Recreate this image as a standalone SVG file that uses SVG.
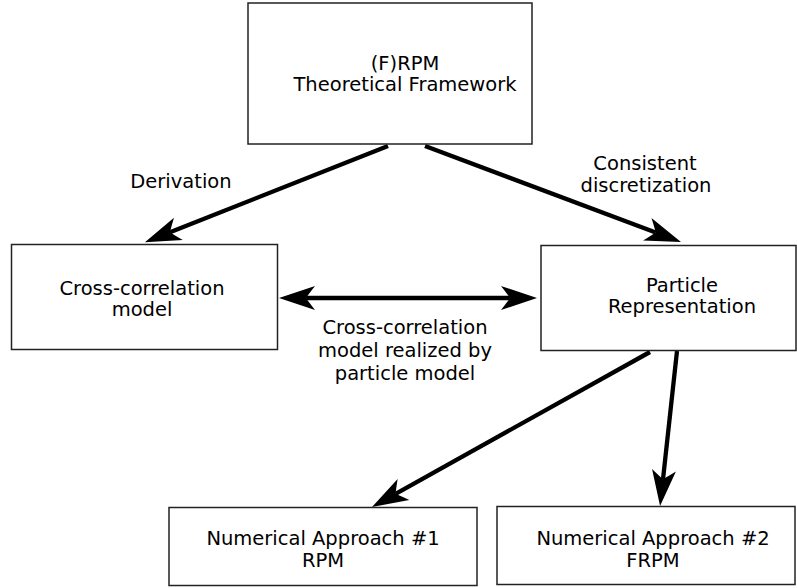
<svg xmlns="http://www.w3.org/2000/svg" width="797" height="588" viewBox="0 0 797 588">
<style>
.box{fill:#fff;stroke:#222;stroke-width:1.5}
.t{font-family:"DejaVu Sans",sans-serif;font-size:19.5px;fill:#000;text-anchor:middle}
.c{stroke:#000;stroke-width:4.3;fill:none}
</style>
<defs>
<marker id="ah" markerUnits="userSpaceOnUse" markerWidth="38" markerHeight="26" refX="9" refY="12" orient="auto-start-reverse" overflow="visible">
<path d="M0,0 L36,12 L0,24 Q7,15 9,12 Q7,9 0,0 Z" fill="#000"/>
</marker>
</defs>
<rect width="797" height="588" fill="#fff"/>
<g id="connectors">
<line class="c" x1="388" y1="146" x2="170" y2="232.2" marker-end="url(#ah)"/>
<line class="c" x1="425" y1="146" x2="655.7" y2="232.5" marker-end="url(#ah)"/>
<line class="c" x1="306" y1="298" x2="510" y2="298" marker-start="url(#ah)" marker-end="url(#ah)"/>
<line class="c" x1="650" y1="352" x2="395.6" y2="493.8" marker-end="url(#ah)"/>
<line class="c" x1="677" y1="351" x2="663" y2="479.2" marker-end="url(#ah)"/>
<text class="t" x="181" y="188">Derivation</text>
<text class="t" x="645" y="170">Consistent</text>
<text class="t" x="646" y="192">discretization</text>
<text class="t" x="405" y="334">Cross-correlation</text>
<text class="t" x="405" y="357">model realized by</text>
<text class="t" x="405" y="380">particle model</text>
</g>
<g id="framework">
<rect class="box" x="248" y="3" width="284" height="141"/>
<text class="t" x="405" y="70">(F)RPM</text>
<text class="t" x="405" y="91">Theoretical Framework</text>
</g>
<g id="crosscorr">
<rect class="box" x="11.5" y="244.5" width="266" height="105"/>
<text class="t" x="142" y="295">Cross-correlation</text>
<text class="t" x="142" y="316">model</text>
</g>
<g id="particle">
<rect class="box" x="541" y="245.5" width="255" height="105"/>
<text class="t" x="682" y="292">Particle</text>
<text class="t" x="682" y="313">Representation</text>
</g>
<g id="na1">
<rect class="box" x="169" y="507.5" width="308" height="78"/>
<text class="t" x="323" y="545">Numerical Approach #1</text>
<text class="t" x="323" y="567">RPM</text>
</g>
<g id="na2">
<rect class="box" x="497" y="506.5" width="298" height="78"/>
<text class="t" x="653" y="545">Numerical Approach #2</text>
<text class="t" x="653" y="567">FRPM</text>
</g>
</svg>
